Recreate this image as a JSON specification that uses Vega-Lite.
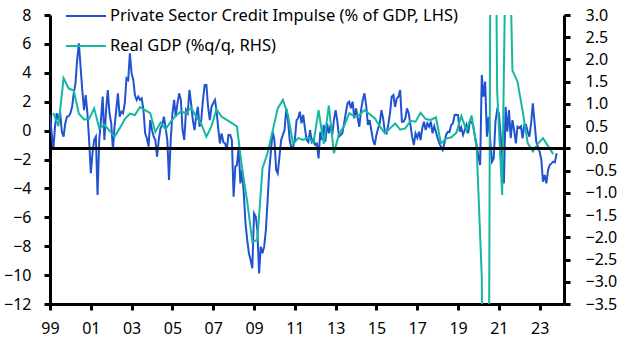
{
  "$schema": "https://vega.github.io/schema/vega-lite/v6.json",
  "width": 514,
  "height": 289,
  "autosize": {"type": "none"},
  "padding": {"left": 50, "right": 65, "top": 15, "bottom": 50},
  "background": "white",
  "config": {
    "view": {"stroke": null},
    "font": "Noto Sans",
    "axis": {
      "grid": false,
      "domainColor": "black",
      "domainWidth": 3,
      "tickColor": "black",
      "tickWidth": 3,
      "tickSize": 6,
      "labelColor": "black",
      "labelFont": "Noto Sans",
      "labelFontSize": 16,
      "labelOverlap": false,
      "labelBound": false,
      "labelFlush": false
    },
    "legend": {
      "orient": "none",
      "legendX": 15,
      "legendY": -20,
      "symbolType": "stroke",
      "symbolSize": 1600,
      "symbolStrokeWidth": 2,
      "labelFont": "Noto Sans",
      "labelFontSize": 16.5,
      "labelColor": "black",
      "labelOffset": 3,
      "rowPadding": -19,
      "padding": 0,
      "labelLimit": 600
    }
  },
  "layer": [
    {
      "data": {
        "format": {"parse": {"d": "date:'%Y-%m'"}},
        "values": [
          {"d":"1999-01","v":1.08},{"d":"1999-02","v":-0.2},{"d":"1999-03","v":-1.34},{"d":"1999-04","v":0.27},{"d":"1999-05","v":1.2},{"d":"1999-06","v":0.73},{"d":"1999-07","v":1.31},{"d":"1999-08","v":-0.08},{"d":"1999-09","v":-0.42},{"d":"1999-10","v":0.5},{"d":"1999-11","v":0.96},{"d":"1999-12","v":1.0},
          {"d":"2000-01","v":1.2},{"d":"2000-02","v":1.65},{"d":"2000-03","v":2.58},{"d":"2000-04","v":3.27},{"d":"2000-05","v":4.89},{"d":"2000-06","v":6.04},{"d":"2000-07","v":4.42},{"d":"2000-08","v":2.81},{"d":"2000-09","v":1.42},{"d":"2000-10","v":2.46},{"d":"2000-11","v":1.2},{"d":"2000-12","v":-0.65},
          {"d":"2001-01","v":-2.95},{"d":"2001-02","v":-1.5},{"d":"2001-03","v":-0.65},{"d":"2001-04","v":-0.42},{"d":"2001-05","v":-4.46},{"d":"2001-06","v":-0.65},{"d":"2001-07","v":0.73},{"d":"2001-08","v":2.35},{"d":"2001-09","v":-0.65},{"d":"2001-10","v":1.42},{"d":"2001-11","v":2.81},{"d":"2001-12","v":1.2},
          {"d":"2002-01","v":0.5},{"d":"2002-02","v":-1.34},{"d":"2002-03","v":0.27},{"d":"2002-04","v":1.42},{"d":"2002-05","v":2.58},{"d":"2002-06","v":0.96},{"d":"2002-07","v":1.31},{"d":"2002-08","v":1.2},{"d":"2002-09","v":1.89},{"d":"2002-10","v":3.62},{"d":"2002-11","v":3.5},{"d":"2002-12","v":5.35},
          {"d":"2003-01","v":3.96},{"d":"2003-02","v":3.5},{"d":"2003-03","v":2.46},{"d":"2003-04","v":2.12},{"d":"2003-05","v":2.35},{"d":"2003-06","v":2.12},{"d":"2003-07","v":2.23},{"d":"2003-08","v":1.42},{"d":"2003-09","v":-0.19},{"d":"2003-10","v":-0.53},{"d":"2003-11","v":-1.11},{"d":"2003-12","v":0.73},
          {"d":"2004-01","v":0.04},{"d":"2004-02","v":-0.42},{"d":"2004-03","v":-0.65},{"d":"2004-04","v":-1.81},{"d":"2004-05","v":-0.65},{"d":"2004-06","v":0.16},{"d":"2004-07","v":0.39},{"d":"2004-08","v":0.96},{"d":"2004-09","v":0.2},{"d":"2004-10","v":-0.65},{"d":"2004-11","v":-3.42},{"d":"2004-12","v":-0.65},
          {"d":"2005-01","v":1.2},{"d":"2005-02","v":2.12},{"d":"2005-03","v":0.96},{"d":"2005-04","v":1.89},{"d":"2005-05","v":2.58},{"d":"2005-06","v":2.12},{"d":"2005-07","v":0.04},{"d":"2005-08","v":-0.65},{"d":"2005-09","v":1.42},{"d":"2005-10","v":1.2},{"d":"2005-11","v":2.81},{"d":"2005-12","v":1.89},
          {"d":"2006-01","v":0.73},{"d":"2006-02","v":0.04},{"d":"2006-03","v":0.96},{"d":"2006-04","v":1.65},{"d":"2006-05","v":0.27},{"d":"2006-06","v":0.73},{"d":"2006-07","v":2.12},{"d":"2006-08","v":3.16},{"d":"2006-09","v":3.16},{"d":"2006-10","v":1.65},{"d":"2006-11","v":0.73},{"d":"2006-12","v":1.65},
          {"d":"2007-01","v":1.89},{"d":"2007-02","v":2.12},{"d":"2007-03","v":1.42},{"d":"2007-04","v":0.16},{"d":"2007-05","v":-0.88},{"d":"2007-06","v":-0.19},{"d":"2007-07","v":-0.8},{"d":"2007-08","v":-0.88},{"d":"2007-09","v":-1.34},{"d":"2007-10","v":-0.3},{"d":"2007-11","v":-0.3},{"d":"2007-12","v":-0.65},
          {"d":"2008-01","v":-4.57},{"d":"2008-02","v":-2.5},{"d":"2008-03","v":-2.38},{"d":"2008-04","v":-1.11},{"d":"2008-05","v":-3.65},{"d":"2008-06","v":-2.73},{"d":"2008-07","v":-4.34},{"d":"2008-08","v":-6.42},{"d":"2008-09","v":-7.57},{"d":"2008-10","v":-8.49},{"d":"2008-11","v":-8.96},{"d":"2008-12","v":-9.53},
          {"d":"2009-01","v":-5.73},{"d":"2009-02","v":-5.96},{"d":"2009-03","v":-6.88},{"d":"2009-04","v":-9.88},{"d":"2009-05","v":-8.03},{"d":"2009-06","v":-8.49},{"d":"2009-07","v":-8.03},{"d":"2009-08","v":-6.88},{"d":"2009-09","v":-4.8},{"d":"2009-10","v":-2.73},{"d":"2009-11","v":-1.34},{"d":"2009-12","v":-0.08},
          {"d":"2010-01","v":-0.65},{"d":"2010-02","v":-2.73},{"d":"2010-03","v":-2.96},{"d":"2010-04","v":-1.81},{"d":"2010-05","v":-0.65},{"d":"2010-06","v":-0.3},{"d":"2010-07","v":0.04},{"d":"2010-08","v":1.54},{"d":"2010-09","v":0.73},{"d":"2010-10","v":-0.65},{"d":"2010-11","v":-1.22},{"d":"2010-12","v":-1.11},
          {"d":"2011-01","v":-0.65},{"d":"2011-02","v":0.73},{"d":"2011-03","v":0.85},{"d":"2011-04","v":1.31},{"d":"2011-05","v":0.5},{"d":"2011-06","v":1.08},{"d":"2011-07","v":0.16},{"d":"2011-08","v":-0.65},{"d":"2011-09","v":-0.8},{"d":"2011-10","v":0.04},{"d":"2011-11","v":-0.77},{"d":"2011-12","v":-0.6},
          {"d":"2012-01","v":-1.0},{"d":"2012-02","v":-0.9},{"d":"2012-03","v":-1.92},{"d":"2012-04","v":-0.08},{"d":"2012-05","v":-0.65},{"d":"2012-06","v":0.39},{"d":"2012-07","v":-0.77},{"d":"2012-08","v":0.5},{"d":"2012-09","v":-0.19},{"d":"2012-10","v":0.39},{"d":"2012-11","v":-0.3},{"d":"2012-12","v":0.73},
          {"d":"2013-01","v":1.42},{"d":"2013-02","v":0.62},{"d":"2013-03","v":-0.42},{"d":"2013-04","v":-0.3},{"d":"2013-05","v":-0.19},{"d":"2013-06","v":0.5},{"d":"2013-07","v":1.2},{"d":"2013-08","v":1.89},{"d":"2013-09","v":2.0},{"d":"2013-10","v":1.54},{"d":"2013-11","v":2.0},{"d":"2013-12","v":0.85},
          {"d":"2014-01","v":1.54},{"d":"2014-02","v":0.85},{"d":"2014-03","v":0.27},{"d":"2014-04","v":1.42},{"d":"2014-05","v":2.12},{"d":"2014-06","v":2.58},{"d":"2014-07","v":1.77},{"d":"2014-08","v":0.39},{"d":"2014-09","v":0.73},{"d":"2014-10","v":0.04},{"d":"2014-11","v":-0.65},{"d":"2014-12","v":-1.0},
          {"d":"2015-01","v":-0.3},{"d":"2015-02","v":0.16},{"d":"2015-03","v":0.5},{"d":"2015-04","v":1.42},{"d":"2015-05","v":0.85},{"d":"2015-06","v":-0.08},{"d":"2015-07","v":-0.19},{"d":"2015-08","v":0.39},{"d":"2015-09","v":1.2},{"d":"2015-10","v":2.35},{"d":"2015-11","v":2.46},{"d":"2015-12","v":1.65},
          {"d":"2016-01","v":2.23},{"d":"2016-02","v":2.35},{"d":"2016-03","v":2.81},{"d":"2016-04","v":0.62},{"d":"2016-05","v":0.62},{"d":"2016-06","v":0.85},{"d":"2016-07","v":1.54},{"d":"2016-08","v":1.2},{"d":"2016-09","v":0.39},{"d":"2016-10","v":-0.42},{"d":"2016-11","v":-1.0},{"d":"2016-12","v":-0.19},
          {"d":"2017-01","v":-0.5},{"d":"2017-02","v":-0.08},{"d":"2017-03","v":-0.65},{"d":"2017-04","v":0.16},{"d":"2017-05","v":0.62},{"d":"2017-06","v":0.04},{"d":"2017-07","v":0.5},{"d":"2017-08","v":0.27},{"d":"2017-09","v":0.62},{"d":"2017-10","v":-0.19},{"d":"2017-11","v":0.3},{"d":"2017-12","v":-0.08},
          {"d":"2018-01","v":-0.53},{"d":"2018-02","v":-0.88},{"d":"2018-03","v":-1.11},{"d":"2018-04","v":-1.34},{"d":"2018-05","v":-0.9},{"d":"2018-06","v":-0.3},{"d":"2018-07","v":-0.08},{"d":"2018-08","v":-0.1},{"d":"2018-09","v":0.39},{"d":"2018-10","v":0.5},{"d":"2018-11","v":1.08},{"d":"2018-12","v":1.1},
          {"d":"2019-01","v":1.08},{"d":"2019-02","v":-0.08},{"d":"2019-03","v":0.2},{"d":"2019-04","v":-0.3},{"d":"2019-05","v":0.04},{"d":"2019-06","v":0.39},{"d":"2019-07","v":-0.19},{"d":"2019-08","v":0.62},{"d":"2019-09","v":0.62},{"d":"2019-10","v":0.3},{"d":"2019-11","v":-0.42},{"d":"2019-12","v":-1.0},
          {"d":"2020-01","v":-1.81},{"d":"2020-02","v":-2.38},{"d":"2020-03","v":3.85},{"d":"2020-04","v":2.35},{"d":"2020-05","v":3.39},{"d":"2020-06","v":-0.42},{"d":"2020-07","v":0.96},{"d":"2020-08","v":-0.77},{"d":"2020-09","v":-2.15},{"d":"2020-10","v":-1.92},{"d":"2020-11","v":0.62},{"d":"2020-12","v":1.42},
          {"d":"2021-01","v":1.2},{"d":"2021-02","v":-0.3},{"d":"2021-03","v":-1.81},{"d":"2021-04","v":-3.65},{"d":"2021-05","v":1.65},{"d":"2021-06","v":-0.08},{"d":"2021-07","v":1.42},{"d":"2021-08","v":-0.53},{"d":"2021-09","v":0.73},{"d":"2021-10","v":0.04},{"d":"2021-11","v":-0.88},{"d":"2021-12","v":0.27},
          {"d":"2022-01","v":0.2},{"d":"2022-02","v":0.3},{"d":"2022-03","v":-0.53},{"d":"2022-04","v":0.39},{"d":"2022-05","v":0.4},{"d":"2022-06","v":-0.08},{"d":"2022-07","v":-0.42},{"d":"2022-08","v":0.5},{"d":"2022-09","v":1.89},{"d":"2022-10","v":0.62},{"d":"2022-11","v":-0.77},{"d":"2022-12","v":-1.11},
          {"d":"2023-01","v":-1.46},{"d":"2023-02","v":-2.04},{"d":"2023-03","v":-3.54},{"d":"2023-04","v":-3.07},{"d":"2023-05","v":-3.65},{"d":"2023-06","v":-2.73},{"d":"2023-07","v":-2.38},{"d":"2023-08","v":-2.27},{"d":"2023-09","v":-2.15},{"d":"2023-10","v":-2.2},{"d":"2023-11","v":-1.57}
        ]
      },
      "mark": {"type": "line", "strokeWidth": 2, "clip": true},
      "encoding": {
        "x": {
          "field": "d", "type": "temporal", "title": null,
          "scale": {"domain": [{"year": 1999, "month": 1, "date": 1}, {"year": 2024, "month": 3, "date": 12}]},
          "axis": {
            "format": "%y",
            "values": [{"year":1999},{"year":2001},{"year":2003},{"year":2005},{"year":2007},{"year":2009},{"year":2011},{"year":2013},{"year":2015},{"year":2017},{"year":2019},{"year":2021},{"year":2023}],
            "labelPadding": 10
          }
        },
        "y": {
          "field": "v", "type": "quantitative", "title": null,
          "scale": {"domain": [-12, 8], "nice": false, "zero": false},
          "axis": {"orient": "left", "values": [-12,-10,-8,-6,-4,-2,0,2,4,6,8], "labelPadding": 13}
        },
        "color": {
          "datum": "Private Sector Credit Impulse (% of GDP, LHS)",
          "type": "nominal",
          "scale": {"domain": ["Private Sector Credit Impulse (% of GDP, LHS)", "Real GDP (%q/q, RHS)"], "range": ["#2153D0", "#14B8A0"]},
          "legend": {"title": null}
        }
      }
    },
    {
      "data": {
        "format": {"parse": {"d": "date:'%Y-%m'"}},
        "values": [
          {"d":"1999-03","v":0.8},{"d":"1999-06","v":0.5},{"d":"1999-09","v":1.58},{"d":"1999-12","v":1.35},
          {"d":"2000-03","v":1.3},{"d":"2000-06","v":0.78},{"d":"2000-09","v":0.65},{"d":"2000-12","v":0.66},
          {"d":"2001-03","v":0.9},{"d":"2001-06","v":0.45},{"d":"2001-09","v":0.53},{"d":"2001-12","v":0.4},
          {"d":"2002-03","v":0.26},{"d":"2002-06","v":0.45},{"d":"2002-09","v":0.66},{"d":"2002-12","v":0.78},
          {"d":"2003-03","v":0.75},{"d":"2003-06","v":0.93},{"d":"2003-09","v":0.86},{"d":"2003-12","v":0.79},
          {"d":"2004-03","v":0.37},{"d":"2004-06","v":0.58},{"d":"2004-09","v":0.43},{"d":"2004-12","v":0.6},
          {"d":"2005-03","v":0.73},{"d":"2005-06","v":0.83},{"d":"2005-09","v":0.79},{"d":"2005-12","v":0.91},
          {"d":"2006-03","v":0.72},{"d":"2006-06","v":0.55},{"d":"2006-09","v":0.26},{"d":"2006-12","v":0.5},
          {"d":"2007-03","v":0.88},{"d":"2007-06","v":0.71},{"d":"2007-09","v":0.64},{"d":"2007-12","v":0.57},
          {"d":"2008-03","v":0.49},{"d":"2008-06","v":-0.45},{"d":"2008-09","v":-1.2},{"d":"2008-12","v":-2.1},
          {"d":"2009-03","v":-2.06},{"d":"2009-06","v":-0.45},{"d":"2009-09","v":-0.1},{"d":"2009-12","v":0.4},
          {"d":"2010-03","v":0.9},{"d":"2010-06","v":1.09},{"d":"2010-09","v":0.75},{"d":"2010-12","v":0.1},
          {"d":"2011-03","v":0.23},{"d":"2011-06","v":0.19},{"d":"2011-09","v":0.25},{"d":"2011-12","v":0.12},
          {"d":"2012-03","v":0.86},{"d":"2012-06","v":0.1},{"d":"2012-09","v":0.96},{"d":"2012-12","v":-0.11},
          {"d":"2013-03","v":0.32},{"d":"2013-06","v":0.5},{"d":"2013-09","v":0.79},{"d":"2013-12","v":0.72},
          {"d":"2014-03","v":0.75},{"d":"2014-06","v":0.86},{"d":"2014-09","v":0.77},{"d":"2014-12","v":0.68},
          {"d":"2015-03","v":0.5},{"d":"2015-06","v":0.34},{"d":"2015-09","v":0.45},{"d":"2015-12","v":0.56},
          {"d":"2016-03","v":0.42},{"d":"2016-06","v":0.45},{"d":"2016-09","v":0.62},{"d":"2016-12","v":0.6},
          {"d":"2017-03","v":0.8},{"d":"2017-06","v":0.66},{"d":"2017-09","v":0.64},{"d":"2017-12","v":0.7},
          {"d":"2018-03","v":0.11},{"d":"2018-06","v":0.22},{"d":"2018-09","v":0.25},{"d":"2018-12","v":0.35},
          {"d":"2019-03","v":0.73},{"d":"2019-06","v":0.4},{"d":"2019-09","v":0.74},{"d":"2019-12","v":0.0},
          {"d":"2020-03","v":-2.9},{"d":"2020-06","v":-19.0},{"d":"2020-09","v":16.0},{"d":"2020-12","v":1.3},
          {"d":"2021-03","v":-1.05},{"d":"2021-06","v":7.2},{"d":"2021-09","v":1.75},{"d":"2021-12","v":1.5},
          {"d":"2022-03","v":0.85},{"d":"2022-06","v":0.12},{"d":"2022-09","v":-0.07},{"d":"2022-12","v":0.1},
          {"d":"2023-03","v":0.23},{"d":"2023-06","v":0.05},{"d":"2023-09","v":-0.13}
        ]
      },
      "mark": {"type": "line", "strokeWidth": 2, "clip": true},
      "encoding": {
        "x": {
          "field": "d", "type": "temporal", "title": null,
          "scale": {"domain": [{"year": 1999, "month": 1, "date": 1}, {"year": 2024, "month": 3, "date": 12}]}
        },
        "y": {
          "field": "v", "type": "quantitative", "title": null,
          "scale": {"domain": [-3.5, 3.0], "nice": false, "zero": false},
          "axis": {"orient": "right", "values": [-3.5,-3,-2.5,-2,-1.5,-1,-0.5,0,0.5,1,1.5,2,2.5,3], "format": ".1f", "labelPadding": 15}
        },
        "color": {"datum": "Real GDP (%q/q, RHS)", "type": "nominal"}
      }
    },
    {
      "data": {"values": [{"z": 0}]},
      "mark": {"type": "rule", "color": "black", "strokeWidth": 3},
      "encoding": {
        "y": {"field": "z", "type": "quantitative", "scale": {"domain": [-3.5, 3.0], "nice": false, "zero": false}, "axis": null}
      }
    }
  ],
  "resolve": {"scale": {"y": "independent"}, "axis": {"y": "independent"}}
}
